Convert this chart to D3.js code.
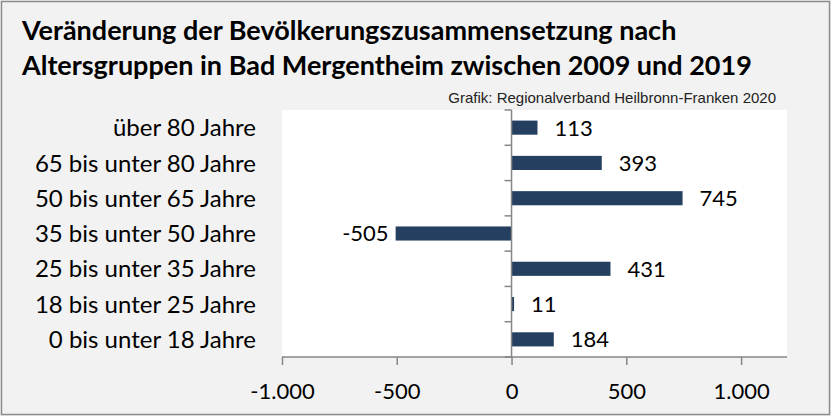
<!DOCTYPE html>
<html>
<head>
<meta charset="utf-8">
<script src="https://cdn.jsdelivr.net/npm/d3@7"></script>
<style>
  body { margin: 0; background: #f2f2f2; }
  svg { display: block; }
</style>
</head>
<body>
<div id="chart"></div>
<script>
var categories = ["über 80 Jahre", "65 bis unter 80 Jahre", "50 bis unter 65 Jahre",
    "35 bis unter 50 Jahre", "25 bis unter 35 Jahre", "18 bis unter 25 Jahre", "0 bis unter 18 Jahre"];
var values = [113, 393, 745, -505, 431, 11, 184];
var tickValues = [-1000, -500, 0, 500, 1000];
var titleLines = ["Veränderung der Bevölkerungszusammensetzung nach",
    "Altersgruppen in Bad Mergentheim zwischen 2009 und 2019"];
var sourceText = "Grafik: Regionalverband Heilbronn-Franken 2020";

var W = 831, H = 416;
var plot = { left: 282, right: 787, top: 110, bottom: 357 };
var font = "Lato, 'Open Sans', sans-serif";

var svg = d3.select("#chart").append("svg")
    .attr("width", W)
    .attr("height", H);

svg.append("rect")
    .attr("x", 1.5).attr("y", 1.5)
    .attr("width", W - 3).attr("height", H - 3)
    .style("fill", "#f2f2f2")
    .style("stroke", "#8c8c8c")
    .style("stroke-width", 1.5);

svg.append("rect")
    .attr("x", plot.left).attr("y", plot.top)
    .attr("width", plot.right - plot.left)
    .attr("height", plot.bottom - plot.top)
    .style("fill", "#fff");

var x = d3.scaleLinear()
    .domain([-1000, 1200])
    .range([plot.left, plot.right]);
var y = d3.scaleBand()
    .domain(categories)
    .range([plot.top, plot.bottom])
    .paddingInner(0.6)
    .paddingOuter(0.3);

// title
svg.selectAll(".title")
    .data(titleLines)
    .enter().append("text")
    .attr("class", "title")
    .attr("x", 22)
    .attr("y", function(d, i) { return 40 + i * 35; })
    .text(function(d) { return d; })
    .attr("font-family", font)
    .attr("font-weight", "bold")
    .attr("font-size", 27)
    .style("fill", "#000");

svg.append("text")
    .attr("x", 776)
    .attr("y", 103)
    .attr("text-anchor", "end")
    .text(sourceText)
    .attr("font-family", "'Liberation Sans', Arial, sans-serif")
    .attr("font-size", 15)
    .style("fill", "#222");

// bars
svg.selectAll(".bar")
    .data(values)
    .enter().append("rect")
    .attr("class", "bar")
    .attr("x", function(d) { return d > 0 ? x(0) : x(d); })
    .attr("y", function(d, i) { return y(categories[i]); })
    .attr("width", function(d) { return Math.abs(x(d) - x(0)); })
    .attr("height", y.bandwidth())
    .style("fill", "#243f60");

// value labels
svg.selectAll(".valLabel")
    .data(values)
    .enter().append("text")
    .attr("class", "valLabel")
    .attr("x", function(d) { return d > 0 ? x(d) + 17 : x(d) - 7; })
    .attr("y", function(d, i) { return y(categories[i]) + y.bandwidth() / 2; })
    .attr("dy", "0.36em")
    .attr("text-anchor", function(d) { return d > 0 ? "start" : "end"; })
    .text(function(d) { return d; })
    .attr("font-family", font)
    .attr("font-size", 22)
    .style("fill", "#000");

// category labels
svg.selectAll(".catLabel")
    .data(categories)
    .enter().append("text")
    .attr("class", "catLabel")
    .attr("x", 256)
    .attr("y", function(d) { return y(d) + y.bandwidth() / 2; })
    .attr("dy", "0.36em")
    .attr("text-anchor", "end")
    .text(function(d) { return d; })
    .attr("font-family", font)
    .attr("font-size", 24)
    .style("fill", "#000");

// zero line with category tick marks
var step = y.step();
var bounds = d3.range(categories.length + 1).map(function(i) { return plot.top + i * step; });
svg.append("line")
    .attr("x1", x(0)).attr("x2", x(0))
    .attr("y1", plot.top).attr("y2", plot.bottom)
    .style("stroke", "#868686")
    .style("stroke-width", 1.5);
svg.selectAll(".catTick")
    .data(bounds)
    .enter().append("line")
    .attr("class", "catTick")
    .attr("x1", x(0) - 7).attr("x2", x(0))
    .attr("y1", function(d) { return d; })
    .attr("y2", function(d) { return d; })
    .style("stroke", "#868686")
    .style("stroke-width", 1.5);

// x axis, German number format with hyphen minus
var fmt = function(d) {
    return (d < 0 ? "-" : "") + d3.format(",")(Math.abs(d)).replace(/,/g, ".");
};
var xAxis = d3.axisBottom(x)
    .tickValues(tickValues)
    .tickSize(8)
    .tickSizeOuter(0)
    .tickPadding(18)
    .tickFormat(fmt);
var gx = svg.append("g")
    .attr("transform", "translate(0," + plot.bottom + ")")
    .call(xAxis);
gx.select(".domain")
    .attr("d", "M" + plot.left + ",0H" + plot.right)
    .style("stroke", "#868686")
    .style("stroke-width", 1.5);
gx.selectAll(".tick line")
    .style("stroke", "#868686")
    .style("stroke-width", 1.5);
gx.selectAll(".tick text")
    .attr("font-family", font)
    .attr("font-size", 22)
    .style("fill", "#000");
</script>
</body>
</html>
